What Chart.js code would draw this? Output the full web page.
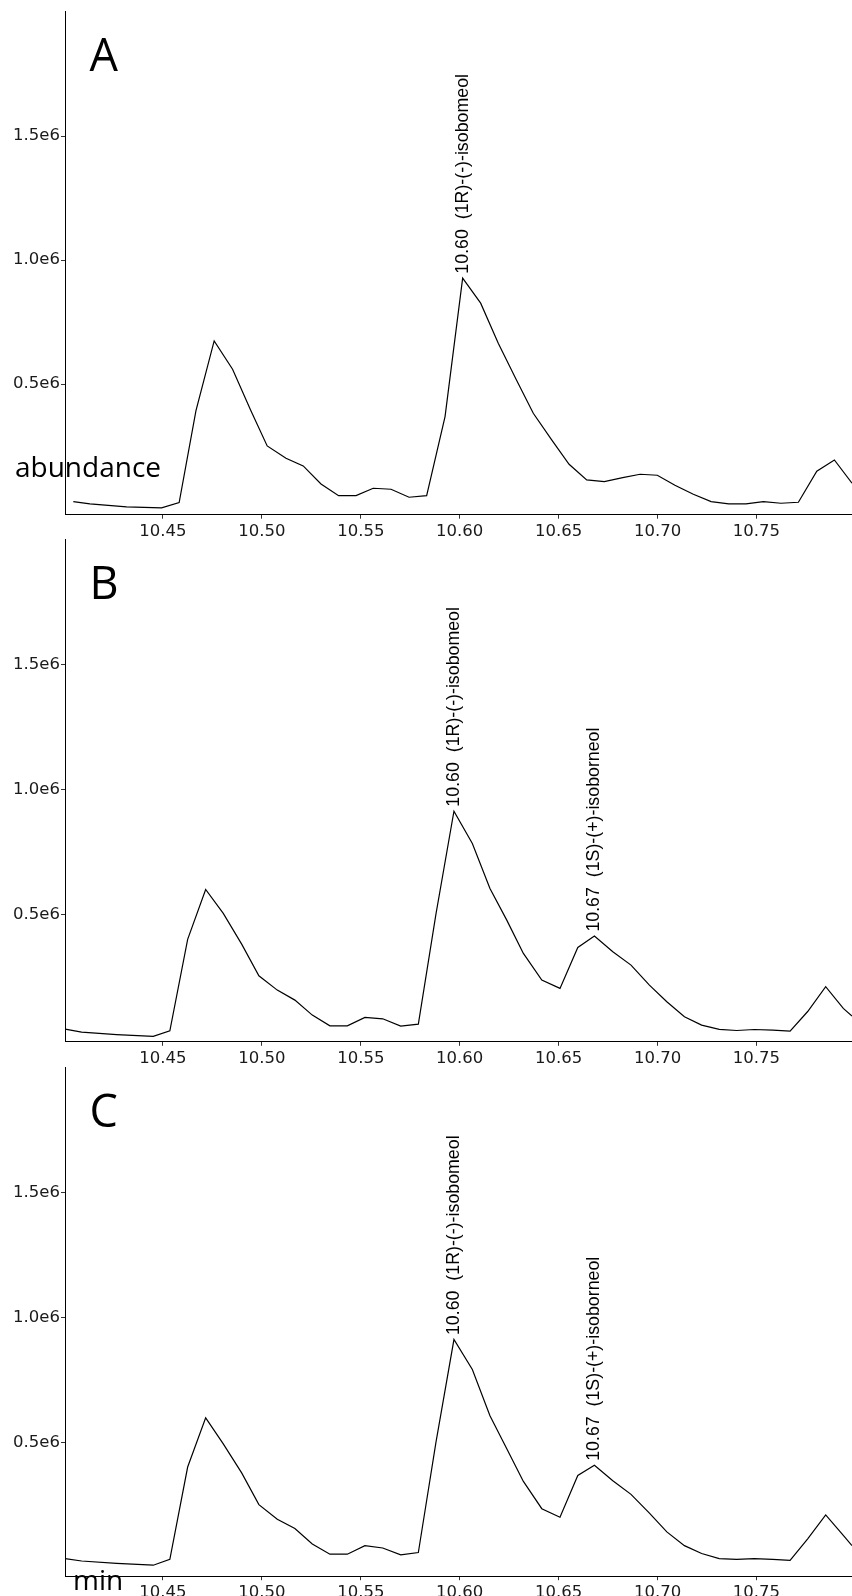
<!DOCTYPE html>
<html>
<head>
<meta charset="utf-8">
<title>Chiral GC chromatograms – isoborneol</title>
<script src="https://cdn.jsdelivr.net/npm/chart.js@4.4.1/dist/chart.umd.min.js"></script>
<style>
  html, body { margin: 0; padding: 0; background: #ffffff; overflow: hidden; }
  body { width: 852px; height: 1596px; position: relative; }
  canvas { position: absolute; left: 0; }
</style>
</head>
<body>
<canvas id="panelA"></canvas>
<canvas id="panelB"></canvas>
<canvas id="panelC"></canvas>
<script>
// Retention time axis (min)
const xTickValues = [10.45, 10.50, 10.55, 10.60, 10.65, 10.70, 10.75];
const yTickValues = [500000, 1000000, 1500000];

// Panel A
const timesA = [10.4047, 10.4131, 10.4316, 10.4493, 10.4582, 10.4667, 10.4759, 10.4852, 10.4943, 10.5027,
                10.5122, 10.5209, 10.5299, 10.5388, 10.5476, 10.5563, 10.5653, 10.5744, 10.5833, 10.5926,
                10.6015, 10.6106, 10.6195, 10.6285, 10.6372, 10.6465, 10.6553, 10.6642, 10.6731, 10.6824,
                10.6912, 10.6999, 10.7088, 10.7181, 10.7271, 10.7360, 10.7447, 10.7535, 10.7624, 10.7712,
                10.7805, 10.7894, 10.7983];
const abundanceA = [26600, 17300, 5200, 1500, 22600, 393500, 674600, 560400, 396300, 251200,
                    201600, 170600, 98000, 50800, 50800, 80600, 76600, 44400, 50800, 369300,
                    927400, 826600, 665300, 520100, 383000, 275400, 177400, 114100, 107300, 123400,
                    137100, 133100, 92700, 56400, 26600, 17300, 17300, 26600, 20200, 24200,
                    149200, 194700, 100800];
const peakIndexA = [20];
const peakNamesA = ['(1R)-(-)-isobomeol'];

// Panel B
const timesB = [10.4006, 10.4089, 10.4266, 10.4451, 10.4535, 10.4625, 10.4716, 10.4805, 10.4898, 10.4985,
                10.5078, 10.5167, 10.5255, 10.5344, 10.5432, 10.5521, 10.5611, 10.5702, 10.5791, 10.5880,
                10.5971, 10.6064, 10.6153, 10.6238, 10.6322, 10.6415, 10.6507, 10.6597, 10.6681, 10.6774,
                10.6866, 10.6959, 10.7047, 10.7136, 10.7223, 10.7312, 10.7400, 10.7489, 10.7582, 10.7670,
                10.7759, 10.7850, 10.7939, 10.7983];
const abundanceB = [40900, 28400, 18800, 12000, 34000, 400100, 600300, 504200, 381300, 254300,
                    197000, 157000, 96900, 54100, 54100, 87700, 82100, 52900, 60900, 501400,
                    913900, 784600, 604400, 477400, 344000, 237100, 203900, 368100, 413300, 350400,
                    297200, 217100, 150200, 90100, 56900, 39600, 35200, 39200, 36400, 32400,
                    111300, 210700, 123800, 92900];
const peakIndexB = [20, 28];
const peakNamesB = ['(1R)-(-)-isobomeol', '(1S)-(+)-isoborneol'];

// Panel C
const timesC = [10.4006, 10.4089, 10.4266, 10.4451, 10.4535, 10.4625, 10.4716, 10.4805, 10.4898, 10.4985,
                10.5078, 10.5167, 10.5255, 10.5344, 10.5432, 10.5521, 10.5611, 10.5702, 10.5791, 10.5880,
                10.5971, 10.6064, 10.6153, 10.6238, 10.6322, 10.6415, 10.6507, 10.6597, 10.6681, 10.6774,
                10.6866, 10.6959, 10.7047, 10.7136, 10.7223, 10.7312, 10.7400, 10.7489, 10.7582, 10.7670,
                10.7759, 10.7850, 10.7939, 10.7983];
const abundanceC = [34500, 24800, 15000, 8000, 31600, 401400, 598500, 494300, 378000, 250800,
                    191900, 155000, 93300, 52100, 52100, 86500, 76900, 49300, 58900, 500000,
                    912200, 792000, 606900, 475000, 343700, 234400, 200300, 367300, 408200, 346500,
                    292000, 216700, 141400, 86500, 54900, 34500, 31600, 34500, 31600, 27600,
                    113800, 209500, 127400, 86500];
const peakIndexC = [20, 28];
const peakNamesC = ['(1R)-(-)-isobomeol', '(1S)-(+)-isoborneol'];

// Layout of the three stacked panels (page pixels)
const CANVAS_W = 852;
const CANVAS_H = 545;
const PAD_TOP = 11;
const AXIS_LEFT = 65;

const panels = [
  { id: 'panelA', letter: 'A', times: timesA, values: abundanceA, peaks: peakIndexA, names: peakNamesA,
    top: 11, bottom: 514.7, yMin: -26000, yLabel: true },
  { id: 'panelB', letter: 'B', times: timesB, values: abundanceB, peaks: peakIndexB, names: peakNamesB,
    top: 538.9, bottom: 1041.7, yMin: -10000 },
  { id: 'panelC', letter: 'C', times: timesC, values: abundanceC, peaks: peakIndexC, names: peakNamesC,
    top: 1066.8, bottom: 1576, yMin: -36000, xLabel: true }
];

const annotatePlugin = {
  id: 'panelText',
  afterDatasetsDraw(chart, args, opts) {
    const p = opts.panel;
    const ctx = chart.ctx;
    const xs = chart.scales.x, ys = chart.scales.y;
    ctx.save();
    ctx.fillStyle = '#000';
    // peak annotations, rotated, starting just above each apex
    ctx.font = '17.8px "Liberation Sans", Arial, sans-serif';
    ctx.textAlign = 'left';
    ctx.textBaseline = 'middle';
    p.peaks.forEach((idx, k) => {
      const px = xs.getPixelForValue(p.times[idx]);
      const py = ys.getPixelForValue(p.values[idx]);
      const label = p.times[idx].toFixed(2) + '  ' + p.names[k];
      ctx.save();
      ctx.translate(px, py - 4.5);
      ctx.rotate(-Math.PI / 2);
      ctx.fillText(label, 0, 0);
      ctx.restore();
    });
    // panel letter
    ctx.textBaseline = 'alphabetic';
    ctx.font = '45px "Open Sans", sans-serif';
    ctx.fillText(p.letter, 89.5, PAD_TOP + 60);
    // axis titles
    ctx.font = '28px "Open Sans", sans-serif';
    if (p.yLabel) ctx.fillText('abundance', 15, 476.7 - (p.top - PAD_TOP));
    if (p.xLabel) ctx.fillText('min', 73, 1590 - (p.top - PAD_TOP));
    ctx.restore();
  }
};

panels.forEach(p => {
  const canvas = document.getElementById(p.id);
  canvas.width = CANVAS_W;
  canvas.height = CANVAS_H;
  canvas.style.top = (p.top - PAD_TOP) + 'px';
  const xAxisHeight = CANVAS_H - PAD_TOP - (p.bottom - p.top);

  new Chart(canvas, {
    type: 'line',
    data: {
      datasets: [{
        data: p.times.map((t, i) => ({ x: t, y: p.values[i] })),
        borderColor: '#000',
        borderWidth: 1.2,
        pointRadius: 0,
        tension: 0,
        fill: false
      }]
    },
    options: {
      responsive: false,
      animation: false,
      devicePixelRatio: 1,
      layout: { padding: { top: PAD_TOP, left: 0, right: 0, bottom: 0 } },
      plugins: {
        legend: { display: false },
        tooltip: { enabled: false },
        panelText: { panel: p }
      },
      scales: {
        x: {
          type: 'linear',
          min: 10.4005,
          max: 10.7983,
          afterBuildTicks: s => { s.ticks = xTickValues.map(v => ({ value: v })); },
          afterFit: s => { s.height = xAxisHeight; },
          ticks: {
            callback: v => Number(v).toFixed(2),
            font: { family: '"DejaVu Sans", sans-serif', size: 16.5 },
            color: '#1a1a1a',
            padding: 3,
            maxRotation: 0,
            autoSkip: false
          },
          grid: { display: true, drawOnChartArea: false, drawTicks: true, tickLength: 4, color: '#333', lineWidth: 1 },
          border: { display: true, color: '#000', width: 1 }
        },
        y: {
          min: p.yMin,
          max: 2004000,
          afterBuildTicks: s => { s.ticks = yTickValues.map(v => ({ value: v })); },
          afterFit: s => { s.width = AXIS_LEFT; },
          ticks: {
            callback: v => (v / 1e6).toFixed(1) + 'e6',
            font: { family: '"DejaVu Sans", sans-serif', size: 16.5 },
            color: '#1a1a1a',
            padding: 1
          },
          grid: { display: true, drawOnChartArea: false, drawTicks: true, tickLength: 4, color: '#333', lineWidth: 1 },
          border: { display: true, color: '#000', width: 1 }
        }
      }
    },
    plugins: [annotatePlugin]
  });
});
</script>
</body>
</html>
